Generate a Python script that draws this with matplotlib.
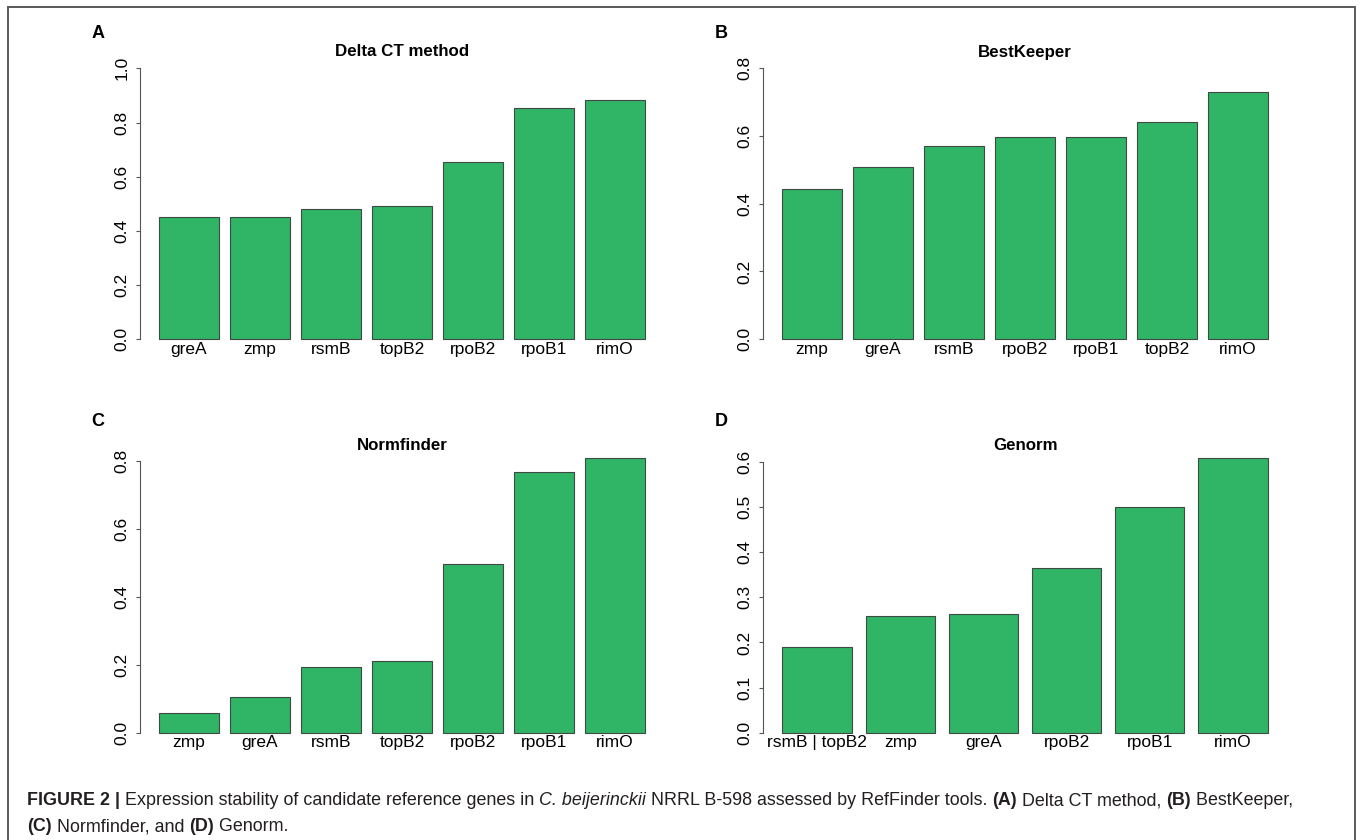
"""Expression stability of candidate reference genes (RefFinder panels)."""

import matplotlib
matplotlib.use("Agg")
import matplotlib.pyplot as plt
import numpy as np
from matplotlib.patches import Rectangle

plt.rcParams["font.family"] = ["Liberation Sans", "DejaVu Sans"]

W, H = 1360, 840

# panel data -------------------------------------------------------------
delta_genes = ["greA", "zmp", "rsmB", "topB2", "rpoB2", "rpoB1", "rimO"]
delta_vals = [0.450, 0.450, 0.480, 0.491, 0.653, 0.852, 0.882]

best_genes = ["zmp", "greA", "rsmB", "rpoB2", "rpoB1", "topB2", "rimO"]
best_vals = [0.443, 0.509, 0.571, 0.596, 0.596, 0.642, 0.730]

norm_genes = ["zmp", "greA", "rsmB", "topB2", "rpoB2", "rpoB1", "rimO"]
norm_vals = [0.057, 0.106, 0.194, 0.211, 0.497, 0.768, 0.811]

genorm_genes = ["rsmB | topB2", "zmp", "greA", "rpoB2", "rpoB1", "rimO"]
genorm_vals = [0.191, 0.258, 0.262, 0.365, 0.501, 0.610]

BAR_COLOR = "#30B466"
EDGE_COLOR = "#3d4a42"
AXIS_COLOR = "#555555"


def px_rect(x0, y0, x1, y1):
    """Pixel box (top-left origin) -> figure fraction rect."""
    return [x0 / W, 1 - y1 / H, (x1 - x0) / W, (y1 - y0) / H]


def bar_panel(ax, genes, vals, ytop, ystep):
    n = len(genes)
    x = 0.7 + 1.2 * np.arange(n)
    ax.bar(x, vals, width=1.0, color=BAR_COLOR, edgecolor=EDGE_COLOR, linewidth=0.8)

    # R-style 4% padding on both axes
    upper = ytop if ytop is not None else max(vals)
    ax.set_ylim(-0.04 * upper, 1.04 * upper)
    span = 1.2 * n - 0.2
    ax.set_xlim(0.2 - 0.04 * span, 0.2 + span + 0.04 * span)

    ticks = np.arange(0, upper + 1e-9, ystep)
    ax.set_yticks(ticks)
    ax.set_yticklabels([f"{t:.1f}" for t in ticks], rotation=90, va="center", fontsize=12.5)
    ax.spines["left"].set_bounds(0, ticks[-1])
    ax.spines["left"].set_color(AXIS_COLOR)
    ax.spines["left"].set_linewidth(0.8)
    for side in ("top", "right", "bottom"):
        ax.spines[side].set_visible(False)
    ax.tick_params(axis="y", length=3, width=0.8, color=AXIS_COLOR, pad=4.5)

    ax.set_xticks(x)
    ax.set_xticklabels(genes, fontsize=12.5)
    ax.tick_params(axis="x", length=0, pad=-6)


fig = plt.figure(figsize=(W / 100, H / 100), dpi=100)

panels = [
    ("A", (140, 57.5, 664, 350), delta_genes, delta_vals, "Delta CT method", 1.0, 0.2, 33, 52),
    ("B", (763, 57.5, 1287, 350), best_genes, best_vals, "BestKeeper", 0.8, 0.2, 33, 52),
    ("C", (140, 446.5, 664, 743.7), norm_genes, norm_vals, "Normfinder", None, 0.2, 421, 445),
    ("D", (763, 446.5, 1287, 743.7), genorm_genes, genorm_vals, "Genorm", None, 0.1, 421, 445),
]

for letter, box, genes, vals, title, ytop, ystep, ly, ty in panels:
    ax = fig.add_axes(px_rect(*box))
    bar_panel(ax, genes, vals, ytop, ystep)
    fig.text((box[0] - 42) / W, 1 - ly / H, letter, fontsize=13, fontweight="bold",
             ha="center", va="center")
    fig.text((box[0] + box[2]) / 2 / W, 1 - ty / H, title, fontsize=12.2,
             fontweight="bold", ha="center", va="center")

# frame round the whole figure
fig.add_artist(Rectangle((8 / W, -0.01), (1355 - 8) / W, 1 - 7 / H + 0.01,
                         transform=fig.transFigure, fill=False,
                         edgecolor="#5a5a5a", linewidth=1.4))

# caption, drawn as runs of mixed weight/style
line1 = [
    ("FIGURE 2 | ", "bold", "normal"),
    ("Expression stability of candidate reference genes in ", "normal", "normal"),
    ("C. beijerinckii", "normal", "italic"),
    (" NRRL B-598 assessed by RefFinder tools. ", "normal", "normal"),
    ("(A)", "bold", "normal"),
    (" Delta CT method, ", "normal", "normal"),
    ("(B)", "bold", "normal"),
    (" BestKeeper,", "normal", "normal"),
]
line2 = [
    ("(C)", "bold", "normal"),
    (" Normfinder, and ", "normal", "normal"),
    ("(D)", "bold", "normal"),
    (" Genorm.", "normal", "normal"),
]

renderer = fig.canvas.get_renderer()


def draw_runs(runs, x0, y, size):
    x = x0
    made = []
    for s, weight, style in runs:
        t = fig.text(x / W, 1 - y / H, s, fontsize=size, fontweight=weight,
                     fontstyle=style, color="#231f20", va="baseline", ha="left")
        made.append(t)
        x = t.get_window_extent(renderer).x1
    return made, x


trial, xend = draw_runs(line1, 27, 805, 12)
for t in trial:
    t.remove()
cap_size = 12 * (1290 - 27) / (xend - 27)
draw_runs(line1, 27, 805, cap_size)
draw_runs(line2, 27, 831, cap_size)

fig.savefig("out.png", dpi=100)
plt.close(fig)
